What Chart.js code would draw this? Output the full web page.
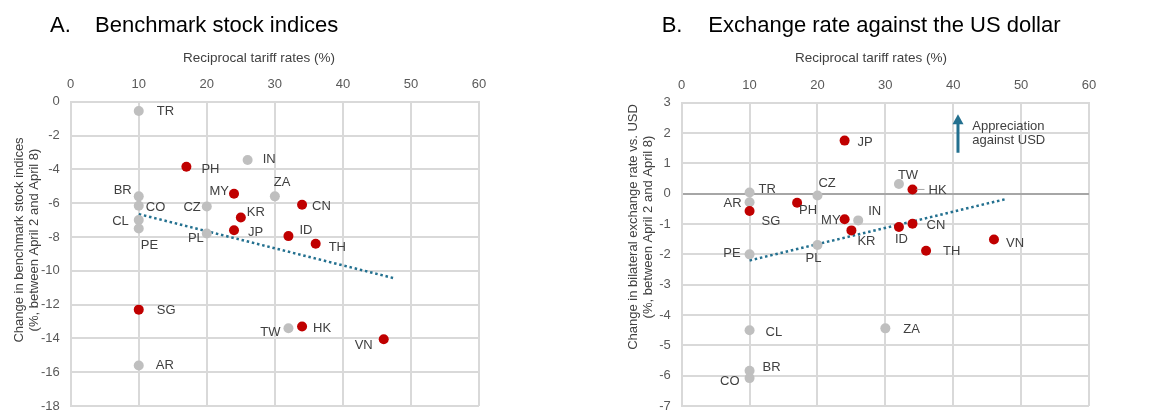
<!DOCTYPE html>
<html>
<head>
<meta charset="utf-8">
<script src="https://cdn.jsdelivr.net/npm/chart.js@4.4.1/dist/chart.umd.min.js"></script>
<style>
  html, body { margin: 0; padding: 0; background: #fff; overflow: hidden; }
  #wrap { position: relative; width: 1161px; height: 414px; }
  canvas { position: absolute; top: 0; display: block; }
  #stockChart { left: 0; }
  #fxChart { left: 580px; }
</style>
</head>
<body>
<div id="wrap">
  <canvas id="stockChart" width="580" height="414"></canvas>
  <canvas id="fxChart" width="581" height="414"></canvas>
</div>
<script>
// data
const countries = ["AR", "BR", "CL", "CN", "CO", "CZ", "HK", "ID", "IN", "JP", "KR",
                   "MY", "PE", "PH", "PL", "SG", "TH", "TR", "TW", "VN", "ZA"];
const tariffRate = [10, 10, 10, 34, 10, 20, 34, 32, 26, 24, 25,
                    24, 10, 17, 20, 10, 36, 10, 32, 46, 30];
const stockChange = [-15.6, -5.6, -7.0, -6.1, -6.15, -6.2, -13.3, -7.95, -3.45, -7.6, -6.85,
                     -5.45, -7.5, -3.85, -7.8, -12.3, -8.4, -0.55, -13.4, -14.05, -5.6];
const fxChange = [-0.28, -5.84, -4.5, -0.99, -6.08, -0.06, 0.14, -1.1, -0.88, 1.75, -1.21,
                  -0.84, -2.0, -0.3, -1.69, -0.57, -1.88, 0.04, 0.32, -1.51, -4.44];
const highlighted = ["CN", "HK", "ID", "JP", "KR", "MY", "PH", "SG", "TH", "VN"];

const stockTrend = [{ x: 10, y: -6.65 }, { x: 47.6, y: -10.45 }];
const fxTrend = [{ x: 10, y: -2.2 }, { x: 47.7, y: -0.18 }];
const xTicks = [0, 10, 20, 30, 40, 50, 60];
const stockTicks = [0, -2, -4, -6, -8, -10, -12, -14, -16, -18];
const fxTicks = [3, 2, 1, 0, -1, -2, -3, -4, -5, -6, -7];
const fxArrow = { x: 40.7, from: 1.35, to: 2.62 };
const fxArrowText = [{ x: 42.8, y: 2.23, text: "Appreciation" }, { x: 42.8, y: 1.74, text: "against USD" }];

const FONT = "'Liberation Sans', Arial, sans-serif";
const RED = "#C00000";
const GREY = "#BFBFBF";
const TREND = "#23708F";
const GRID = "#D9D9D9";

// label placement: [dx, dy, align, leader]
const stockLabelPos = {
  TR: [18, 0, "left"], PH: [15, 3, "left"], IN: [15, -1, "left"], BR: [-7, -6, "right"],
  CO: [7, 2, "left"], CL: [-10, 1, "right"], PE: [2, 17, "left"], MY: [-5, -2, "right"],
  ZA: [-1, -14, "left"], CZ: [-6, 1, "right"], CN: [10, 2, "left"], KR: [6, -5, "left"],
  JP: [14, 2, "left"], PL: [-3, 5, "right"], ID: [11, -6, "left"], TH: [13, 4, "left"],
  SG: [18, 1, "left"], AR: [17, 0, "left"], TW: [-8, 4, "right"], HK: [11, 2, "left"],
  VN: [-11, 6, "right"]
};
const fxLabelPos = {
  JP: [13, 2, "left"], TW: [-1, -9, "left"], HK: [16, 1, "left", true], TR: [9, -3, "left"],
  CZ: [1, -12, "left"], AR: [-8, 1, "right"], SG: [12, 10, "left"], PH: [2, 8, "left"],
  MY: [-4, 1, "right"], IN: [10, -9, "left"], KR: [6, 11, "left"], ID: [-4, 12, "left"],
  CN: [14, 2, "left"], PL: [-12, 13, "left"], PE: [-9, -1, "right"], TH: [17, 1, "left"],
  VN: [12, 4, "left"], CL: [16, 2, "left"], ZA: [18, 1, "left"], BR: [13, -3, "left"],
  CO: [-10, 3, "right"]
};

const pointLabels = {
  id: "pointLabels",
  afterDatasetsDraw(chart, args, opts) {
    const idx = chart.data.datasets.findIndex((d) => d.label === "countries");
    const meta = chart.getDatasetMeta(idx);
    const ctx = chart.ctx;
    ctx.save();
    ctx.font = "13px " + FONT;
    ctx.fillStyle = "#404040";
    ctx.textBaseline = "middle";
    meta.data.forEach((el, i) => {
      const p = opts.placement[countries[i]] || [8, 0, "left"];
      if (p[3]) {
        ctx.strokeStyle = "#A6A6A6";
        ctx.lineWidth = 1;
        ctx.beginPath();
        ctx.moveTo(el.x + 4, el.y);
        ctx.lineTo(el.x + p[0] - 4, el.y);
        ctx.stroke();
      }
      ctx.textAlign = p[2];
      ctx.fillText(countries[i], el.x + p[0], el.y + p[1]);
    });
    ctx.restore();
  }
};

const panelText = {
  id: "panelText",
  afterDraw(chart, args, o) {
    const ctx = chart.ctx;
    ctx.save();
    ctx.fillStyle = "#000";
    ctx.font = "22px " + FONT;
    ctx.textAlign = "left";
    ctx.textBaseline = "alphabetic";
    ctx.fillText(o.letter, o.letterX, 32);
    ctx.fillText(o.title, o.titleX, 32);

    ctx.fillStyle = "#404040";
    ctx.font = "13.5px " + FONT;
    ctx.textAlign = "center";
    ctx.textBaseline = "middle";
    ctx.fillText("Reciprocal tariff rates (%)", o.xTitleX, 58);

    ctx.font = "13px " + FONT;
    o.yTitle.forEach((line, i) => {
      ctx.save();
      ctx.translate(o.yTitleX[i], o.yTitleY);
      ctx.rotate(-Math.PI / 2);
      ctx.fillText(line, 0, 0);
      ctx.restore();
    });
    ctx.restore();
  }
};

const arrowNote = {
  id: "arrowNote",
  afterDatasetsDraw(chart) {
    const { ctx, scales: { x, y } } = chart;
    const ax = x.getPixelForValue(fxArrow.x);
    const top = y.getPixelForValue(fxArrow.to);
    const bot = y.getPixelForValue(fxArrow.from);
    ctx.save();
    ctx.strokeStyle = TREND;
    ctx.fillStyle = TREND;
    ctx.lineWidth = 3;
    ctx.beginPath();
    ctx.moveTo(ax, bot);
    ctx.lineTo(ax, top + 8);
    ctx.stroke();
    ctx.beginPath();
    ctx.moveTo(ax, top);
    ctx.lineTo(ax - 5.5, top + 10);
    ctx.lineTo(ax + 5.5, top + 10);
    ctx.closePath();
    ctx.fill();
    ctx.fillStyle = "#404040";
    ctx.font = "13px " + FONT;
    ctx.textAlign = "left";
    ctx.textBaseline = "middle";
    fxArrowText.forEach((t) => {
      ctx.fillText(t.text, x.getPixelForValue(t.x), y.getPixelForValue(t.y));
    });
    ctx.restore();
  }
};

function tickFont() {
  return { family: FONT, size: 13 };
}

function buildChart(canvasId, values, trend, yMin, yMax, yTicks, frame, extra) {
  const points = countries.map((c, i) => ({ x: tariffRate[i], y: values[i] }));
  const colours = countries.map((c) => (highlighted.includes(c) ? RED : GREY));
  return new Chart(document.getElementById(canvasId), {
    type: "scatter",
    data: {
      datasets: [
        {
          label: "countries",
          data: points,
          pointRadius: 5,
          pointBackgroundColor: colours,
          pointBorderColor: colours,
          pointBorderWidth: 0
        },
        {
          type: "line",
          label: "trend",
          data: trend,
          borderColor: TREND,
          borderWidth: 2.5,
          borderDash: [2.5, 2.8],
          pointRadius: 0,
          fill: false,
          tension: 0
        }
      ]
    },
    options: {
      responsive: false,
      animation: false,
      layout: { padding: { left: 0, top: 0, right: frame.right, bottom: 8 } },
      plugins: {
        legend: { display: false },
        tooltip: { enabled: false },
        pointLabels: { placement: extra.placement },
        panelText: extra.text
      },
      scales: {
        x: {
          type: "linear",
          position: "top",
          min: 0,
          max: 60,
          afterBuildTicks: (s) => { s.ticks = xTicks.map((v) => ({ value: v })); },
          afterFit: (s) => { s.height = frame.top; },
          grid: { color: GRID, lineWidth: 2, drawTicks: false },
          border: { color: GRID, width: 2 },
          ticks: { color: "#595959", font: tickFont(), padding: 9, maxRotation: 0 }
        },
        y: {
          type: "linear",
          min: yMin,
          max: yMax,
          afterBuildTicks: (s) => { s.ticks = yTicks.map((v) => ({ value: v })); },
          afterFit: (s) => {
            s.width = frame.left;
            s.paddingTop = 0;
            s.paddingBottom = 0;
          },
          grid: {
            color: (c) => (extra.zeroLine && c.tick && c.tick.value === 0 ? "#A6A6A6" : GRID),
            lineWidth: 2,
            drawTicks: false
          },
          border: { color: GRID, width: 2 },
          ticks: { color: "#595959", font: tickFont(), padding: 11 }
        }
      }
    },
    plugins: [pointLabels, panelText].concat(extra.plugins || [])
  });
}

buildChart("stockChart", stockChange, stockTrend, -18, 0, stockTicks,
  { left: 70.7, top: 101.7, right: 101 },
  {
    placement: stockLabelPos,
    text: {
      letter: "A.", letterX: 50, title: "Benchmark stock indices", titleX: 95,
      xTitleX: 259,
      yTitle: ["Change in benchmark stock indices", "(%, between April 2 and April 8)"],
      yTitleX: [19, 34], yTitleY: 240
    }
  });

buildChart("fxChart", fxChange, fxTrend, -7, 3, fxTicks,
  { left: 101.7, top: 102.7, right: 72 },
  {
    placement: fxLabelPos,
    zeroLine: true,
    plugins: [arrowNote],
    text: {
      letter: "B.", letterX: 81.7, title: "Exchange rate against the US dollar", titleX: 128.3,
      xTitleX: 291,
      yTitle: ["Change in bilateral exchange rate vs. USD", "(%, between April 2 and April 8)"],
      yTitleX: [53, 68], yTitleY: 227
    }
  });
</script>
</body>
</html>
